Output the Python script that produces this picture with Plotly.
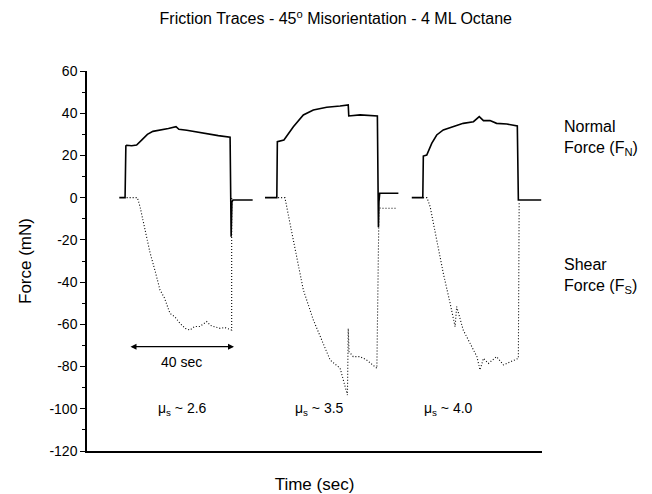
import plotly.graph_objects as go

# ---- data (time in sec, force in mN) ----
t_n1 = [12.3, 14.5, 14.8, 15.1, 17.0, 18.9, 21.0, 23.0, 25.1, 28.0, 31.0, 33.9, 35.0, 38.0, 42.0, 46.0, 50.0, 54.5, 54.9, 55.2, 55.6, 63.1]
f_n1 = [0.0, 0.0, 24.5, 24.8, 24.6, 24.9, 27.5, 30.0, 31.4, 32.0, 32.8, 33.6, 32.4, 31.9, 31.0, 30.0, 29.4, 28.6, -18.5, -2.0, -1.1, -1.1]

t_s1 = [15.1, 19.2, 20.2, 22.0, 24.0, 26.0, 27.8, 29.5, 31.6, 33.5, 35.4, 37.5, 39.2, 41.0, 43.0, 45.6, 47.0, 48.1, 50.7, 52.5, 54.5, 55.1, 55.1]
f_s1 = [0.0, 0.0, -4.3, -15.0, -26.0, -35.0, -43.7, -47.5, -54.8, -56.5, -59.5, -62.0, -62.7, -61.0, -61.0, -58.7, -60.5, -61.0, -61.9, -61.5, -62.7, -62.7, 0.0]

t_n2 = [67.8, 72.3, 72.5, 75.0, 78.6, 82.4, 86.2, 91.3, 96.4, 99.5, 99.7, 104.0, 110.6, 111.0, 111.2, 111.5, 112.3, 118.6]
f_n2 = [0.0, 0.0, 26.5, 27.3, 33.6, 39.2, 41.5, 42.8, 43.4, 43.9, 38.7, 39.2, 38.7, -14.0, -1.9, 2.1, 2.1, 2.1]

t_s2 = [72.8, 75.4, 77.3, 79.9, 82.4, 86.2, 90.0, 92.6, 96.4, 99.2, 99.5, 99.8, 101.4, 104.0, 106.5, 110.4, 111.2, 112.3, 118.0]
f_s2 = [0.0, 0.0, -12.1, -27.9, -43.7, -57.9, -69.0, -76.9, -80.8, -93.5, -62.0, -73.0, -75.3, -75.3, -76.9, -80.8, -4.9, -5.0, -5.0]

t_n3 = [123.7, 127.9, 128.1, 129.4, 131.3, 133.2, 135.7, 139.5, 143.3, 147.2, 149.4, 151.0, 153.5, 156.0, 159.9, 163.9, 164.3, 173.0]
f_n3 = [0.0, 0.0, 19.7, 20.2, 25.7, 29.7, 32.1, 33.6, 35.2, 36.0, 38.4, 36.5, 36.5, 35.2, 34.9, 34.0, -1.1, -1.1]

t_s3 = [128.0, 129.5, 130.7, 133.2, 135.7, 138.3, 139.5, 140.2, 140.8, 143.3, 145.9, 148.5, 149.7, 151.0, 152.9, 156.0, 158.6, 161.1, 164.3, 164.6]
f_s3 = [0.0, 0.0, -4.3, -20.0, -35.8, -50.0, -57.9, -61.1, -51.6, -62.7, -69.0, -75.3, -81.6, -76.1, -78.5, -75.3, -79.2, -77.7, -76.1, -1.9]

mu_labels = ["μ<sub>s</sub> ~ 2.6", "μ<sub>s</sub> ~ 3.5", "μ<sub>s</sub> ~ 4.0"]
mu_x = [36.4, 88.4, 137.5]
mu_y = -100

y_ticks = [-120, -100, -80, -60, -40, -20, 0, 20, 40, 60]
y_ticktext = ["-120", "-100", "-80", "-60", "-40", "-20", "0", "20", "40", "60"]

FONT = "Liberation Sans, Arial, sans-serif"

fig = go.Figure()
for t, f in [(t_n1, f_n1), (t_n2, f_n2), (t_n3, f_n3)]:
    fig.add_trace(go.Scatter(x=t, y=f, mode="lines",
                             line=dict(color="black", width=1.6), showlegend=False))
for t, f in [(t_s1, f_s1), (t_s2, f_s2), (t_s3, f_s3)]:
    fig.add_trace(go.Scatter(x=t, y=f, mode="lines",
                             line=dict(color="black", width=1.1, dash="1px,2px"), showlegend=False))

for lbl, x in zip(mu_labels, mu_x):
    fig.add_annotation(x=x, y=mu_y, text=lbl, showarrow=False,
                       font=dict(size=14, color="black", family=FONT))

# 40 sec double arrow
fig.add_annotation(x=56.0, y=-70.6, ax=16.0, ay=-70.6, axref="x", ayref="y",
                   xref="x", yref="y", text="", showarrow=True,
                   arrowhead=2, arrowside="end+start", arrowsize=1, arrowwidth=1.2,
                   arrowcolor="black")
fig.add_annotation(x=36.0, y=-78.0, text="40 sec", showarrow=False,
                   font=dict(size=14, color="black", family=FONT))

fig.add_annotation(xref="paper", x=1.043, y=28.3, xanchor="left", align="left",
                   text="Normal<br>Force (F<sub>N</sub>)", showarrow=False,
                   font=dict(size=16, color="black", family=FONT))
fig.add_annotation(xref="paper", x=1.043, y=-37.0, xanchor="left", align="left",
                   text="Shear<br>Force (F<sub>S</sub>)", showarrow=False,
                   font=dict(size=16, color="black", family=FONT))

fig.update_layout(
    width=652, height=494,
    margin=dict(l=87, r=110, t=71, b=43),
    paper_bgcolor="white", plot_bgcolor="white",
    font=dict(family=FONT, color="black", size=14),
    title=dict(text="Friction Traces - 45<sup>o</sup> Misorientation - 4 ML Octane",
               x=0.515, xanchor="center", y=0.962, yanchor="middle",
               font=dict(size=16, family=FONT, color="black")),
    xaxis=dict(range=[0, 173.3], showticklabels=False, ticks="", showgrid=False,
               zeroline=False, showline=True, linecolor="black", linewidth=1.5,
               automargin=False,
               title=dict(text="Time (sec)", font=dict(size=17), standoff=26)),
    yaxis=dict(range=[-120, 60], tickvals=y_ticks, ticktext=y_ticktext,
               ticks="outside", ticklen=5,
               tickwidth=1.2, tickcolor="black", showgrid=False, zeroline=False,
               showline=True, linecolor="black", linewidth=1.5, automargin=False,
               minor=dict(dtick=10, ticks="outside", ticklen=3, tickcolor="black", tickwidth=1.2),
               title=dict(text="Force (mN)", font=dict(size=17), standoff=13)),
)

fig.write_html("out.html")
